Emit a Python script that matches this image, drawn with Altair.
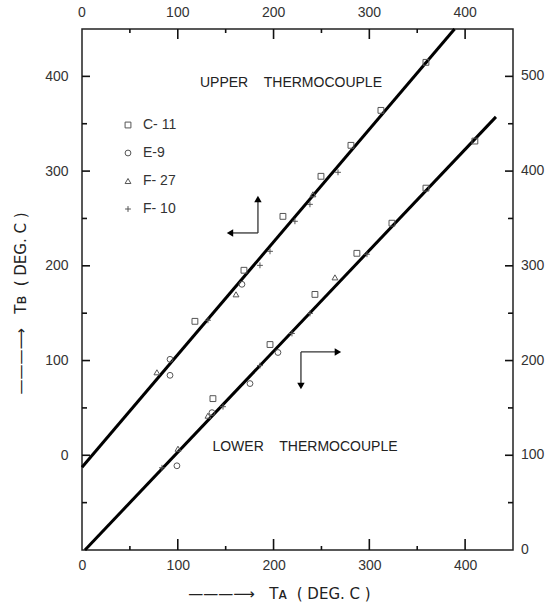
import altair as alt
import pandas as pd

SERIES = ["C- 11", "E-9", "F- 27", "F- 10"]
SHAPES = ["square", "circle", "triangle-up", "M-1,0H1M0,-1V1"]

# ---- upper thermocouple (read on top TA axis and left TB axis)
UP_C11_X = [117.9, 169.1, 209.8, 249.5, 280.8, 312.1, 359.1]
UP_C11_Y = [141.4, 195.3, 252.2, 294.5, 327.2, 364.1, 414.8]
UP_E9_X = [91.9, 91.9, 167.0]
UP_E9_Y = [101.3, 84.4, 180.5]
UP_F27_X = [78.2, 160.8, 241.1]
UP_F27_Y = [87.6, 169.9, 275.5]
UP_F10_X = [131.5, 185.8, 196.3, 222.3, 238.0, 267.3]
UP_F10_Y = [142.5, 200.5, 215.3, 247.0, 264.9, 298.7]
UP_FIT_X = [0, 389]
UP_FIT_Y = [-12.7, 450]

# ---- lower thermocouple (read on bottom TA axis and right TB axis)
LO_C11_X = [136.7, 196.3, 243.2, 287.0, 323.6, 359.1, 410.2]
LO_C11_Y = [159.8, 216.9, 269.8, 313.2, 345.0, 382.0, 431.7]
LO_E9_X = [99.1, 135.7, 175.4, 204.6]
LO_E9_Y = [88.9, 145.0, 175.7, 208.5]
LO_F27_X = [100.2, 131.5, 264.1]
LO_F27_Y = [106.9, 141.8, 287.8]
LO_F10_X = [83.5, 147.2, 185.8, 219.2, 238.0, 297.5]
LO_F10_Y = [86.8, 151.3, 194.7, 228.6, 249.7, 312.2]
LO_FIT_X = [3.1, 432.2]
LO_FIT_Y = [0, 457.2]

# right TB axis = left TB axis + 100
RIGHT_AXIS_SHIFT = 100

# ---- axis ticks / labels
TA_LABELS = [0, 100, 200, 300, 400]
TB_LEFT_LABELS = [0, 100, 200, 300, 400]
TB_RIGHT_LABELS = [0, 100, 200, 300, 400, 500]
TOP_MAJOR = [100, 200, 300, 400]
TOP_MINOR = [50, 150, 250, 350]
LEFT_MAJOR = [0, 100, 200, 300, 400]
LEFT_MINOR = [-50, 50, 150, 250, 350]
BOTTOM_MAJOR = [100, 200, 300, 400]
BOTTOM_MINOR = [50, 150, 250, 350]
RIGHT_MAJOR = [100, 200, 300, 400, 500]
RIGHT_MINOR = [50, 150, 250, 350, 450]

# ---- annotations (data coordinates, left TB units)
ARROW_X = [183.7, 183.7, 228.6, 228.6]
ARROW_Y = [234.7, 234.7, 109.1, 109.1]
ARROW_X2 = [154.5, 183.7, 267.2, 228.6]
ARROW_Y2 = [234.7, 270.6, 109.1, 73.2]
HEAD_ANGLE = [270, 0, 90, 180]
NB = "\u00a0"
NOTE_TEXT = ["UPPER" + NB * 4 + "THERMOCOUPLE", "LOWER" + NB * 4 + "THERMOCOUPLE"]
NOTE_X = [218.2, 232.8]
NOTE_Y = [393.1, 8.8]
TITLE_B = "———⟶" + NB * 3 + "Tʙ" + NB * 2 + "(" + NB + "DEG." + NB + "C" + NB + ")"
TITLE_A = "———⟶" + NB * 3 + "Tᴀ" + NB * 2 + "(" + NB + "DEG." + NB + "C" + NB + ")"

W, H = 431, 521
X_DOM = [0, 450]
Y_DOM = [-100, 450]
LABEL_FONT = "Liberation Sans"
TITLE_FONT = "DejaVu Sans"
INK = "#222"
LABEL_INK = "#333"


def pts(xs, ys, name):
    return pd.DataFrame({"x": xs, "y": ys, "series": name})


up_pts = pd.concat([
    pts(UP_C11_X, UP_C11_Y, SERIES[0]), pts(UP_E9_X, UP_E9_Y, SERIES[1]),
    pts(UP_F27_X, UP_F27_Y, SERIES[2]), pts(UP_F10_X, UP_F10_Y, SERIES[3])])
lo_pts = pd.concat([
    pts(LO_C11_X, LO_C11_Y, SERIES[0]), pts(LO_E9_X, LO_E9_Y, SERIES[1]),
    pts(LO_F27_X, LO_F27_Y, SERIES[2]), pts(LO_F10_X, LO_F10_Y, SERIES[3])])
lo_pts["y"] = lo_pts["y"] - RIGHT_AXIS_SHIFT
all_pts = pd.concat([up_pts, lo_pts])

fits = pd.concat([
    pd.DataFrame({"x": UP_FIT_X, "y": UP_FIT_Y, "line": "upper"}),
    pd.DataFrame({"x": LO_FIT_X, "y": [v - RIGHT_AXIS_SHIFT for v in LO_FIT_Y],
                  "line": "lower"})])

xscale = alt.Scale(domain=X_DOM, nice=False, zero=False)
yscale = alt.Scale(domain=Y_DOM, nice=False, zero=False)

common_axis = dict(ticks=False, domain=False, grid=False, labelFont=LABEL_FONT,
                   labelFontSize=14, labelColor=LABEL_INK, labelFlush=False,
                   labelOverlap=False)
AX_BOTTOM = alt.Axis(orient="bottom", values=TA_LABELS, labelPadding=8,
                     title=TITLE_A, titleFont=TITLE_FONT, titleFontSize=15,
                     titleFontWeight="normal", titleColor=INK, titleX=197, titleY=43,
                     titleAlign="center", titleBaseline="middle", **common_axis)
AX_LEFT = alt.Axis(orient="left", values=TB_LEFT_LABELS, labelPadding=14,
                   title=TITLE_B, titleFont=TITLE_FONT, titleFontSize=15,
                   titleFontWeight="normal", titleColor=INK, titleAngle=270,
                   titleX=-62, titleY=274, titleAlign="center", titleBaseline="middle",
                   **common_axis)
X = alt.X("x:Q", scale=xscale, axis=AX_BOTTOM)
Y = alt.Y("y:Q", scale=yscale, axis=AX_LEFT)

LEG = alt.Legend(orient="none", legendX=39, legendY=89, title=None, labelFont=LABEL_FONT,
                 labelFontSize=14, labelColor=LABEL_INK, symbolSize=34,
                 symbolStrokeColor="#555", symbolStrokeWidth=1, symbolFillColor="white",
                 rowPadding=14, padding=0, labelOffset=8)

ux = (X_DOM[1] - X_DOM[0]) / W   # data units per pixel
uy = (Y_DOM[1] - Y_DOM[0]) / H
segs = []
for vals, ln in ((TOP_MAJOR, 10), (TOP_MINOR, 4)):
    for v in vals:
        segs.append({"x": v, "x2": v, "y": Y_DOM[1], "y2": Y_DOM[1] - ln * uy})
for vals, ln in ((BOTTOM_MAJOR, 11), (BOTTOM_MINOR, 4)):
    for v in vals:
        segs.append({"x": v, "x2": v, "y": Y_DOM[0], "y2": Y_DOM[0] + ln * uy})
for vals, ln in ((LEFT_MAJOR, 8), (LEFT_MINOR, 5)):
    for v in vals:
        segs.append({"x": X_DOM[0], "x2": X_DOM[0] + ln * ux, "y": v, "y2": v})
for vals, ln in ((RIGHT_MAJOR, 8), (RIGHT_MINOR, 5)):
    for v in vals:
        yv = v - RIGHT_AXIS_SHIFT
        segs.append({"x": X_DOM[1], "x2": X_DOM[1] - ln * ux, "y": yv, "y2": yv})
ticks_df = pd.DataFrame(segs)

fit_layer = alt.Chart(fits).mark_line(color="black", strokeWidth=3).encode(
    x=X, y=Y, detail="line:N")
pt_layer = alt.Chart(all_pts).mark_point(filled=False, size=34, strokeWidth=1, color="#555",
                                         opacity=1).encode(
    x=X, y=Y, shape=alt.Shape("series:N", scale=alt.Scale(domain=SERIES, range=SHAPES),
                              legend=LEG))
tick_layer = alt.Chart(ticks_df).mark_rule(color="#111", strokeWidth=1.6).encode(
    x=X, y=Y, x2="x2:Q", y2="y2:Q")

arrows = pd.DataFrame({"x": ARROW_X, "y": ARROW_Y, "x2": ARROW_X2, "y2": ARROW_Y2,
                       "a": HEAD_ANGLE})
arrow_layer = alt.Chart(arrows).mark_rule(color="#333", strokeWidth=1.3).encode(
    x=X, y=Y, x2="x2:Q", y2="y2:Q")
head_layer = alt.Chart(arrows).mark_point(shape="triangle-up", filled=True, size=55,
                                          color="black", opacity=1).encode(
    x=alt.X("x2:Q", scale=xscale, axis=AX_BOTTOM),
    y=alt.Y("y2:Q", scale=yscale, axis=AX_LEFT),
    angle=alt.Angle("a:Q", scale=None))
note_layer = alt.Chart(pd.DataFrame({"x": NOTE_X, "y": NOTE_Y, "t": NOTE_TEXT})).mark_text(
    font=LABEL_FONT, fontSize=14, color=INK, align="center", baseline="middle").encode(
    x=X, y=Y, text="t:N")

# top TA axis labels and right TB axis labels
top_labels = alt.Chart(pd.DataFrame({"x": TA_LABELS})).mark_text(
    font=LABEL_FONT, fontSize=14, color=LABEL_INK, align="center", baseline="bottom",
    dy=-9).encode(x=X, y=alt.value(0), text=alt.Text("x:Q", format="d"))
right_labels = alt.Chart(pd.DataFrame({"yr": TB_RIGHT_LABELS})).transform_calculate(
    y="datum.yr - %d" % RIGHT_AXIS_SHIFT).mark_text(
    font=LABEL_FONT, fontSize=14, color=LABEL_INK, align="left", baseline="middle",
    dx=8).encode(x=alt.value(W), y=Y, text=alt.Text("yr:Q", format="d"))

chart = alt.layer(fit_layer, tick_layer, pt_layer, arrow_layer, head_layer, note_layer,
                  top_labels, right_labels).properties(
    width=W, height=H,
    autosize=alt.AutoSizeParams(type="none"),
    padding={"left": 82, "top": 29, "right": 35, "bottom": 62},
    background="white",
).configure_view(stroke=INK, strokeWidth=1.5)

chart.save("out.html", embed_options={"renderer": "svg", "actions": False})
